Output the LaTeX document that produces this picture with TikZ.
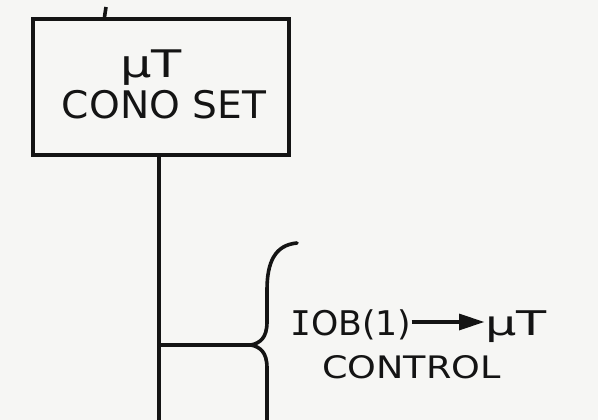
\documentclass[tikz,border=0pt]{standalone}
\usepackage{fontspec}
\setmainfont{DejaVu Sans}
\newfontfamily\serifI{DejaVu Sans Mono}
\usetikzlibrary{arrows.meta,calc}
\definecolor{paper}{RGB}{246,246,244}
\definecolor{ink}{RGB}{20,20,20}
\tikzset{
  wire/.style={draw=ink, line width=3.6pt},
  lbl/.style={inner sep=0pt, text=ink},
  big/.style={lbl, font=\fontsize{38}{40}\selectfont},
  mid/.style={lbl, font=\fontsize{34}{36}\selectfont},
  small/.style={lbl, font=\fontsize{31}{34}\selectfont},
  headtip/.style={fill=ink},
}
\begin{document}
\begin{tikzpicture}[x=1pt,y=-1pt]
\fill[paper] (0,0) rectangle (598,420);
\useasboundingbox (0,0) rectangle (598,420);
% box
\node[wire, draw, rectangle, minimum width=256pt, minimum height=136pt, anchor=north west, inner sep=0pt] (box) at (31,17) {};
\node[big, anchor=base, xscale=1.3] (mu1) at (151,78) {μT};
\node[big, anchor=base, xscale=1.03] (cono) at (164,119) {CONO SET};
\coordinate (stubtop) at (106,7);
\draw[wire] (stubtop) -- (box.north west -| 104.5,17);
% trunk
\coordinate (trunkbot) at (159,420);
\draw[wire] (box.south -| 159,0) -- (trunkbot);
% brace
\coordinate (tip) at (251,345);
\coordinate (btop) at (297,243);
\coordinate (bbot) at (267,420);
\draw[wire] (159,345) -- (tip);
\draw[wire, line cap=round] (btop) .. controls (275,245) and (267,262) .. (267,290)
  -- (267,322) .. controls (267,338) and (260,343) .. (tip)
  .. controls (260,347) and (267,352) .. (267,368) -- (bbot);
% label
\node[mid, anchor=base west, xscale=1.02] (iob) at (290,335) {{\serifI I}OB(1)};
\node[mid, anchor=base west, xscale=1.45] (mu2) at (485,335) {μT};
\coordinate (ahead) at ($(mu2.west |- 0,322)+(-1,0)$);
\coordinate (abase) at ($(ahead)+(-20,0)$);
\draw[wire, line width=3.2pt] (iob.east |- 0,322) -- (abase);
\fill[headtip] (ahead) -- ($(ahead)+(-25,-8.5)$) -- ($(ahead)+(-25,8.5)$) -- cycle;
\node[small, anchor=base west, xscale=1.18] (ctl) at (322,378) {CONTROL};
\end{tikzpicture}
\end{document}
